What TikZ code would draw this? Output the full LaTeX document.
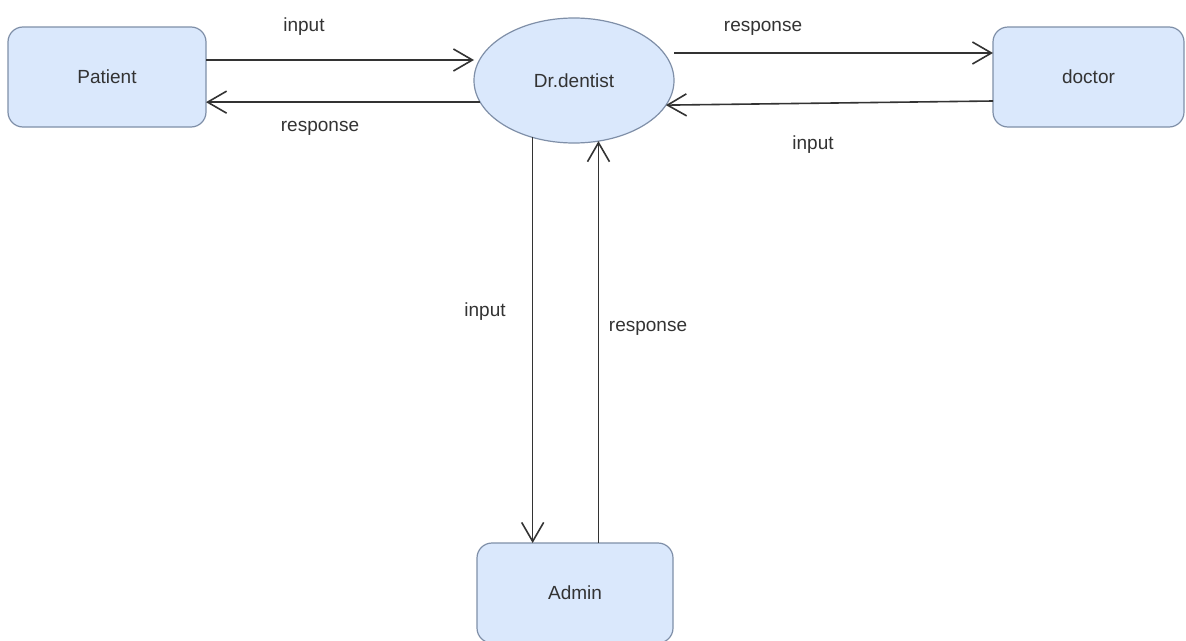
\documentclass[tikz,border=0pt]{standalone}
\usepackage{fontspec}
\setmainfont{Liberation Sans}
\usetikzlibrary{arrows.meta,shapes.geometric}
\definecolor{boxfill}{HTML}{DAE8FC}
\definecolor{boxline}{HTML}{7F8FA8}
\definecolor{txt}{HTML}{333333}
\begin{document}
\begin{tikzpicture}[x=1pt,y=-1pt,
  font=\fontsize{19}{22}\selectfont,
  box/.style={draw=boxline, fill=boxfill, rounded corners=15pt, line width=1.2pt,
    minimum width=198pt, minimum height=100pt, text=txt, outer sep=0pt, inner sep=0pt},
  ell/.style={ellipse, draw=boxline, fill=boxfill, line width=1.2pt,
    minimum width=200pt, minimum height=125pt, text=txt, outer sep=0pt, inner sep=0pt},
  arr/.style={-{Straight Barb[length=19pt,width=22pt]}, line width=1.6pt, draw=black!80},
  lbl/.style={text=txt, inner sep=1pt}]
\useasboundingbox (0,0) rectangle (1186,640);
\clip (0,0) rectangle (1186,640);
\fill[white] (0,0) rectangle (1186,640);

\node[box] (patient) at (107,77) {Patient};
\node[ell] (dr) at (574,80.5) {Dr.dentist};
\node[box, minimum width=191pt] (doctor) at (1088.5,77) {doctor};
\node[box, minimum width=196pt] (admin) at (575,593) {Admin};

\draw[arr] (patient.east |- 0,60) -- (dr.west |- 0,60);
\draw[arr] (dr.193) -- (patient.east |- dr.193);
\draw[arr] (dr.east |- 0,53) -- (doctor.west |- 0,53);
\draw[arr] (doctor.west |- 0,101) -- (dr.-15);
\draw[arr] (dr.-126) -- (dr.-126 |- admin.north);
\draw[arr] (dr.-68 |- admin.north) -- (dr.-68);

\node[lbl] (l1) at (304,27) {input};
\node[lbl] (l2) at (320,128) {response};
\node[lbl] (l3) at (763,28) {response};
\node[lbl] (l4) at (813,145) {input};
\node[lbl] (l5) at (485,312) {input};
\node[lbl] (l6) at (648,328) {response};
\end{tikzpicture}
\end{document}
